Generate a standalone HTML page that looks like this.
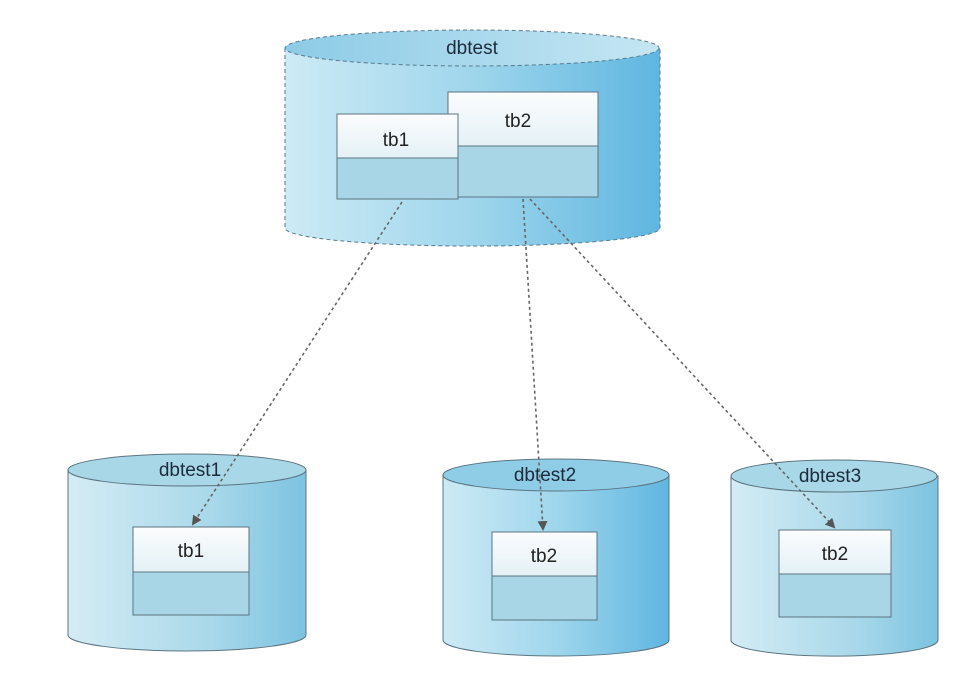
<!DOCTYPE html>
<html><head><style>body{margin:0;background:#fff}svg{display:block}</style></head><body>
<svg width="976" height="676" viewBox="0 0 976 676" xmlns="http://www.w3.org/2000/svg" font-family="Liberation Sans, sans-serif">
<defs>
<linearGradient id="body" x1="0" x2="1" y1="0" y2="0">
<stop offset="0" stop-color="#cdeaf5"/><stop offset="0.5" stop-color="#9fd6ec"/><stop offset="1" stop-color="#5fb6e0"/></linearGradient>
<linearGradient id="body2" x1="0" x2="1" y1="0" y2="0">
<stop offset="0" stop-color="#d4ecf4"/><stop offset="0.6" stop-color="#a9d8ea"/><stop offset="1" stop-color="#7cc3e0"/></linearGradient>
<linearGradient id="top" x1="0" x2="1"><stop offset="0" stop-color="#8ccbe6"/><stop offset="1" stop-color="#c5e6f3"/></linearGradient>
<linearGradient id="hdr" x1="0" x2="0" y1="0" y2="1"><stop offset="0" stop-color="#fbfcfd"/><stop offset="1" stop-color="#e4f1f6"/></linearGradient>
<marker id="ar" markerWidth="10" markerHeight="10" refX="8" refY="5" orient="auto" markerUnits="userSpaceOnUse"><path d="M0,0 L10,5 L0,10 z" fill="#555"/></marker>
</defs>
<!-- top cylinder -->
<path d="M285,48 L285,228 A187,18 0 0 0 660,228 L660,48 Z" fill="url(#body)" stroke="#5a7a8a" stroke-dasharray="4,3"/>
<ellipse cx="472" cy="48" rx="187" ry="18" fill="url(#top)" stroke="#5a7a8a" stroke-dasharray="4,3"/>
<text x="472" y="54" font-size="19" text-anchor="middle" fill="#1d2b3a">dbtest</text>
<g stroke="#5c7480" stroke-width="1">
<rect x="448" y="92" width="150" height="105" fill="#a9d6e6"/>
<rect x="448" y="92" width="150" height="54" fill="url(#hdr)"/>
<rect x="337" y="114" width="121" height="85" fill="#a9d6e6"/>
<rect x="337" y="114" width="121" height="44" fill="url(#hdr)"/>
</g>
<text x="518" y="127" font-size="19" text-anchor="middle" fill="#222">tb2</text>
<text x="396" y="146" font-size="19" text-anchor="middle" fill="#222">tb1</text>
<!-- bottom cylinders -->
<g stroke="#5c7480">
<path d="M68,470 L68,635 A119,16 0 0 0 306,635 L306,470 Z" fill="url(#body2)"/>
<ellipse cx="187" cy="470" rx="119" ry="16" fill="#a8d7e8"/>
<path d="M443,475 L443,640 A113,16 0 0 0 669,640 L669,475 Z" fill="url(#body)"/>
<ellipse cx="556" cy="475" rx="113" ry="16" fill="#8fcde6"/>
<path d="M731,476 L731,640 A103,16 0 0 0 938,640 L938,476 Z" fill="url(#body2)"/>
<ellipse cx="834" cy="476" rx="103" ry="16" fill="#a8d7e8"/>
<rect x="133" y="527" width="116" height="88" fill="#a9d6e6"/>
<rect x="133" y="527" width="116" height="45" fill="url(#hdr)"/>
<rect x="492" y="532" width="105" height="88" fill="#a9d6e6"/>
<rect x="492" y="532" width="105" height="44" fill="url(#hdr)"/>
<rect x="779" y="530" width="112" height="87" fill="#a9d6e6"/>
<rect x="779" y="530" width="112" height="44" fill="url(#hdr)"/>
</g>
<g font-size="19" text-anchor="middle" fill="#1d2b3a">
<text x="190" y="476">dbtest1</text>
<text x="545" y="481">dbtest2</text>
<text x="830" y="482">dbtest3</text>
<text x="191" y="557" fill="#222">tb1</text>
<text x="544" y="562" fill="#222">tb2</text>
<text x="835" y="560" fill="#222">tb2</text>
</g>
<!-- connectors -->
<g stroke="#666" stroke-width="1.6" stroke-dasharray="3,3" fill="none">
<line x1="402" y1="202" x2="193" y2="524" marker-end="url(#ar)"/>
<line x1="523" y1="199" x2="543" y2="529" marker-end="url(#ar)"/>
<line x1="530" y1="199" x2="834" y2="527" marker-end="url(#ar)"/>
</g>
</svg>
</body></html>
